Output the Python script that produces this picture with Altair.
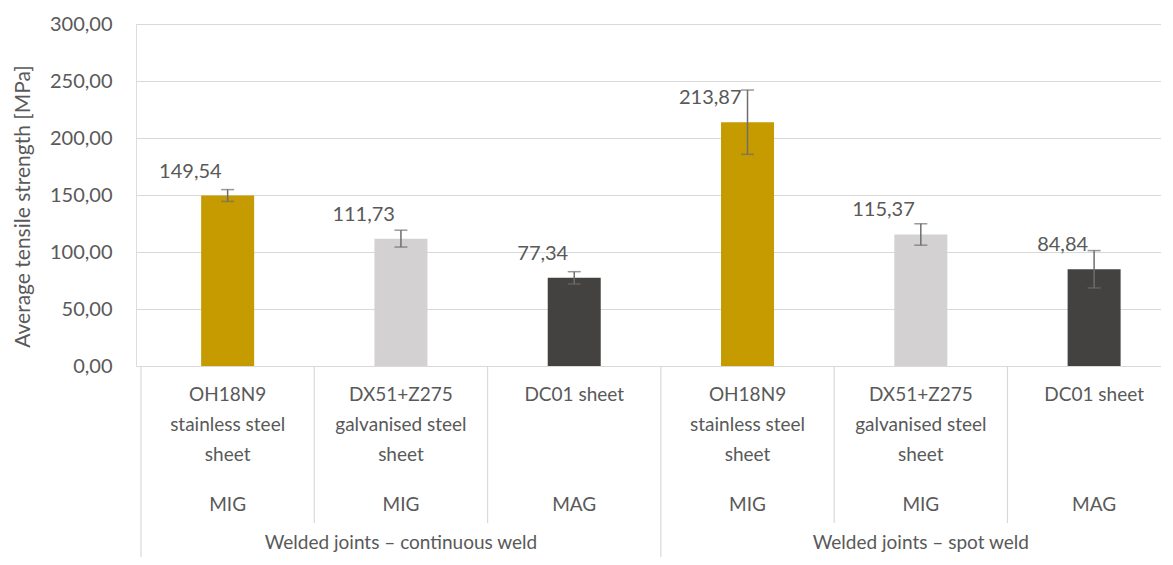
import altair as alt
import pandas as pd

# ---- data ----
groups = ["Welded joints – continuous weld"] * 3 + ["Welded joints – spot weld"] * 3
materials = [
    "OH18N9\nstainless steel\nsheet",
    "DX51+Z275\ngalvanised steel\nsheet",
    "DC01 sheet",
] * 2
processes = ["MIG", "MIG", "MAG", "MIG", "MIG", "MAG"]
values = [149.54, 111.73, 77.34, 213.87, 115.37, 84.84]
errors = [5.2, 7.4, 5.4, 28.2, 9.4, 16.4]
material_order = ["OH18N9\nstainless steel\nsheet", "DX51+Z275\ngalvanised steel\nsheet", "DC01 sheet"]
colors = ["#C59B00", "#D3D1D2", "#444240"]

TXT = "#595959"
GRID = "#D9D9D9"
FONT = "Lato"
STEP = 175.0
W, H = 1025, 342

df = pd.DataFrame({
    "group": groups,
    "material": materials,
    "process": processes,
    "value": values,
    "err": errors,
})
df["pos"] = [i + 0.5 for i in range(len(df))]
df["lo"] = df["value"] - df["err"]
df["hi"] = df["value"] + df["err"]

# boundaries between categories (inner) and between groups (outer)
inner, outer = [], [0]
for i in range(1, len(groups)):
    (outer if groups[i] != groups[i - 1] else inner).append(i)
outer.append(len(groups))
b_inner = pd.DataFrame({"b": inner})
b_outer = pd.DataFrame({"b": outer})

gdf = df.groupby("group", sort=False)["pos"].mean().reset_index()

xscale = alt.Scale(domain=[0, W / STEP], nice=False, zero=False)
X = lambda f: alt.X(f, type="quantitative", scale=xscale, axis=None)

base = alt.Chart(df)

bars = base.mark_bar(size=53).encode(
    x=X("pos"),
    y=alt.Y(
        "value:Q",
        scale=alt.Scale(domain=[0, 300]),
        axis=alt.Axis(
            values=[0, 50, 100, 150, 200, 250, 300],
            labelExpr="replace(format(datum.value, '.2f'), '.', ',')",
            grid=True, gridColor=GRID, gridWidth=1,
            domain=False, ticks=False,
            labelPadding=24, labelFontSize=20, labelColor=TXT, labelFont=FONT,
            title="Average tensile strength [MPa]",
            titleFont=FONT, titleFontSize=21, titleColor=TXT, titleFontWeight="normal",
            titleX=-113, titleY=182, titleBaseline="middle", titleAngle=-90,
        ),
    ),
    color=alt.Color("material:N", scale=alt.Scale(domain=material_order, range=colors), legend=None),
)

err_rule = base.mark_rule(color="#6E6E6E", strokeWidth=1.5).encode(
    x=X("pos"), y="lo:Q", y2="hi:Q"
)
cap_lo = base.mark_tick(orient="horizontal", size=13, thickness=1.5, color="#6E6E6E").encode(
    x=X("pos"), y="lo:Q"
)
cap_hi = base.mark_tick(orient="horizontal", size=13, thickness=1.5, color="#6E6E6E").encode(
    x=X("pos"), y="hi:Q"
)

labels = base.transform_calculate(
    lab="replace(format(datum.value, '.2f'), '.', ',')"
).mark_text(
    align="right", baseline="middle", dx=-6, dy=-24, fontSize=20, font=FONT, color=TXT
).encode(x=X("pos"), y="value:Q", text="lab:N")

mat_text = base.mark_text(
    align="center", baseline="top", lineBreak="\n", lineHeight=30,
    fontSize=19, font=FONT, color=TXT,
).encode(x=X("pos"), y=alt.value(362), text="material:N")

proc_text = base.mark_text(
    align="center", baseline="middle", fontSize=19, font=FONT, color=TXT,
).encode(x=X("pos"), y=alt.value(481), text="process:N")

grp_text = alt.Chart(gdf).mark_text(
    align="center", baseline="middle", fontSize=19, font=FONT, color=TXT,
).encode(x=X("pos"), y=alt.value(519), text="group:N")

sep_inner = alt.Chart(b_inner).mark_rule(color=GRID, strokeWidth=1.2).encode(
    x=X("b"), y=alt.value(H), y2=alt.value(H + 157)
)
sep_outer = alt.Chart(b_outer).mark_rule(color=GRID, strokeWidth=1.2).encode(
    x=X("b"), y=alt.value(H), y2=alt.value(H + 200)
)

chart = alt.layer(
    bars, err_rule, cap_lo, cap_hi, labels, mat_text, proc_text, grp_text, sep_inner, sep_outer
).properties(
    width=W, height=H,
    padding={"left": 128, "top": 16, "right": 0, "bottom": 191},
    autosize=alt.AutoSizeParams(type="none"),
).configure_view(stroke=None).configure(background="white")

chart.save("out.html", embed_options={"renderer": "svg", "actions": False})
